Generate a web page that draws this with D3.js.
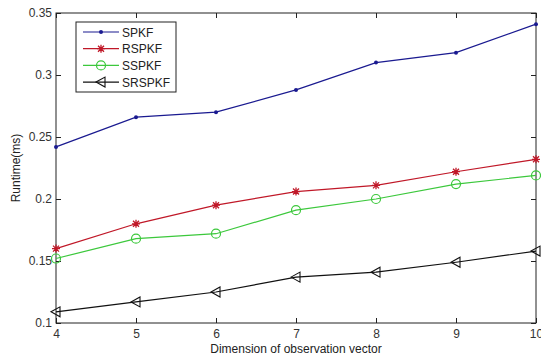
<!DOCTYPE html>
<html>
<head>
<meta charset="utf-8">
<script src="https://cdn.jsdelivr.net/npm/d3@7"></script>
<style>
  body { margin: 0; background: #fff; }
  svg { font-family: "Liberation Sans", Arial, sans-serif; }
</style>
</head>
<body>
<div id="vis"></div>
<script>
// Data
const DIMS = [4, 5, 6, 7, 8, 9, 10];
const SPKF = [0.242, 0.266, 0.270, 0.288, 0.310, 0.318, 0.341];
const RSPKF = [0.160, 0.180, 0.195, 0.206, 0.211, 0.222, 0.232];
const SSPKF = [0.152, 0.168, 0.172, 0.191, 0.200, 0.212, 0.219];
const SRSPKF = [0.109, 0.117, 0.125, 0.137, 0.141, 0.149, 0.158];
const Y_TICKS = [0.1, 0.15, 0.2, 0.25, 0.3, 0.35];
const Y_TICK_LABELS = ["0.1", "0.15", "0.2", "0.25", "0.3", "0.35"];

// Frame
const FRAME_WIDTH = 541;
const FRAME_HEIGHT = 359;
const MARGINS = {left: 56, right: 5, top: 13, bottom: 36};
const VIS_WIDTH = FRAME_WIDTH - MARGINS.left - MARGINS.right;
const VIS_HEIGHT = FRAME_HEIGHT - MARGINS.top - MARGINS.bottom;

const FRAME = d3.select("#vis")
  .append("svg")
    .attr("width", FRAME_WIDTH)
    .attr("height", FRAME_HEIGHT);

const X_SCALE = d3.scaleLinear().domain([4, 10]).range([0, VIS_WIDTH]);
const Y_SCALE = d3.scaleLinear().domain([0.1, 0.35]).range([VIS_HEIGHT, 0]);

const G = FRAME.append("g")
  .attr("transform", "translate(" + MARGINS.left + "," + MARGINS.top + ")");

// axes (matlab style, ticks inward, on all four sides)
const TICK = 5;
G.append("g")
  .attr("transform", "translate(0," + VIS_HEIGHT + ")")
  .call(d3.axisBottom(X_SCALE).tickValues(DIMS).tickFormat(d3.format("d"))
        .tickSizeInner(-TICK).tickSizeOuter(0).tickPadding(6))
  .call(g => g.select(".domain").remove());
G.append("g")
  .call(d3.axisTop(X_SCALE).tickValues(DIMS).tickFormat("")
        .tickSizeInner(-TICK).tickSizeOuter(0))
  .call(g => g.select(".domain").remove());
G.append("g")
  .call(d3.axisLeft(Y_SCALE).tickValues(Y_TICKS)
        .tickFormat((d, i) => Y_TICK_LABELS[i])
        .tickSizeInner(-TICK).tickSizeOuter(0).tickPadding(4))
  .call(g => g.select(".domain").remove());
G.append("g")
  .attr("transform", "translate(" + VIS_WIDTH + ",0)")
  .call(d3.axisRight(Y_SCALE).tickValues(Y_TICKS).tickFormat("")
        .tickSizeInner(-TICK).tickSizeOuter(0))
  .call(g => g.select(".domain").remove());

G.selectAll(".tick line").attr("stroke", "#222");
G.selectAll(".tick text").attr("font-size", 12).attr("fill", "#333")
  .attr("font-family", "Liberation Sans, Arial, sans-serif");

// box
G.append("rect")
  .attr("width", VIS_WIDTH).attr("height", VIS_HEIGHT)
  .attr("fill", "none").attr("stroke", "#222").attr("stroke-width", 1);

// series
const SERIES = [
  {name: "SPKF", values: SPKF, color: "#1a1a90", marker: "dot"},
  {name: "RSPKF", values: RSPKF, color: "#c01828", marker: "star"},
  {name: "SSPKF", values: SSPKF, color: "#3cc83c", marker: "circle"},
  {name: "SRSPKF", values: SRSPKF, color: "#111", marker: "tri"}
];

const line = d3.line()
  .x((d, i) => X_SCALE(DIMS[i]))
  .y(d => Y_SCALE(d));

function drawMarker(sel, type, color) {
  if (type === "dot") {
    sel.append("circle").attr("r", 2).attr("fill", color);
  } else if (type === "star") {
    sel.append("path")
      .attr("d", "M-4,0H4M0,-4V4M-3,-3L3,3M-3,3L3,-3")
      .attr("stroke", color).attr("stroke-width", 1.3).attr("fill", "none");
  } else if (type === "circle") {
    sel.append("circle").attr("r", 4.5)
      .attr("fill", "none").attr("stroke", color).attr("stroke-width", 1.2);
  } else if (type === "tri") {
    sel.append("path").attr("d", "M-5,0L4,-5L4,5Z")
      .attr("fill", "none").attr("stroke", color).attr("stroke-width", 1.1);
  }
}

SERIES.forEach(s => {
  G.append("path")
    .datum(s.values)
    .attr("d", line)
    .attr("fill", "none")
    .attr("stroke", s.color)
    .attr("stroke-width", 1.2);
  G.selectAll(null)
    .data(s.values)
    .enter()
    .append("g")
      .attr("transform", (d, i) => "translate(" + X_SCALE(DIMS[i]) + "," + Y_SCALE(d) + ")")
      .each(function() { drawMarker(d3.select(this), s.marker, s.color); });
});

// legend
const LEG = FRAME.append("g").attr("transform", "translate(76,22)");
LEG.append("rect")
  .attr("width", 100).attr("height", 70)
  .attr("fill", "#fff").attr("stroke", "#222").attr("stroke-width", 1);
SERIES.forEach((s, i) => {
  const row = LEG.append("g").attr("transform", "translate(0," + (10 + i * 16.7) + ")");
  row.append("line").attr("x1", 7).attr("x2", 43)
    .attr("stroke", s.color).attr("stroke-width", 1.2);
  drawMarker(row.append("g").attr("transform", "translate(25,0)"), s.marker, s.color);
  row.append("text").attr("x", 46).attr("y", 4.5)
    .attr("font-size", 12).attr("fill", "#222").text(s.name);
});

// axis labels
FRAME.append("text")
  .attr("x", MARGINS.left + VIS_WIDTH / 2).attr("y", 353)
  .attr("text-anchor", "middle").attr("font-size", 12).attr("fill", "#222")
  .text("Dimension of observation vector");
FRAME.append("text")
  .attr("transform", "translate(20," + (MARGINS.top + VIS_HEIGHT / 2) + ") rotate(-90)")
  .attr("text-anchor", "middle").attr("font-size", 12).attr("fill", "#222")
  .text("Runtime(ms)");
</script>
</body>
</html>
